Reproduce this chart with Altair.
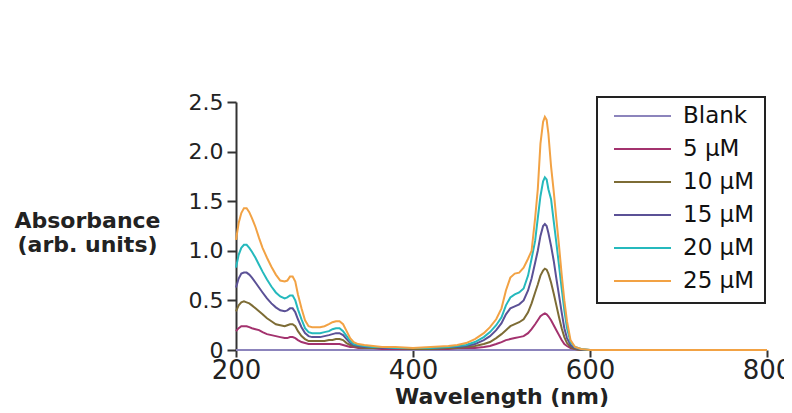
import altair as alt
import pandas as pd

# Wavelength grid (nm)
wavelength = [200, 203, 206, 209, 212, 215, 218, 222, 226, 230, 235, 240, 245, 250, 255, 258, 261, 264, 267, 270,
              274, 278, 282, 286, 290, 295, 300, 305, 309, 313, 317, 321, 325, 329, 333, 338, 345, 355, 365, 380,
              400, 420, 440, 450, 460, 470, 480, 487, 494,
              500, 505, 510, 515, 520, 525, 530, 534, 538, 541, 544, 547, 549, 551, 553, 556, 559, 562, 565, 568,
              571, 574, 578, 583, 590, 600, 700, 800]

series_names = ["Blank", "5 μM", "10 μM", "15 μM", "20 μM", "25 μM"]
series_colors = ["#8c84bc", "#a3326e", "#7d6c35", "#5b5196", "#25b9bd", "#f2a244"]

blank = [0.0] * len(wavelength)

c5 = [0.19, 0.22, 0.24, 0.24, 0.24, 0.23, 0.22, 0.21, 0.20, 0.18, 0.16, 0.15, 0.14, 0.13, 0.12, 0.12, 0.13, 0.13, 0.12, 0.10,
      0.08, 0.07, 0.06, 0.06, 0.06, 0.06, 0.06, 0.06, 0.06, 0.06, 0.06, 0.05, 0.04, 0.03, 0.03, 0.02, 0.02, 0.02, 0.01, 0.01,
      0.01, 0.01, 0.01, 0.02, 0.02, 0.02, 0.03, 0.04, 0.06,
      0.08, 0.10, 0.11, 0.12, 0.13, 0.14, 0.17, 0.21, 0.26, 0.30, 0.34, 0.36, 0.37, 0.36, 0.34, 0.30, 0.25, 0.20, 0.15, 0.10,
      0.06, 0.04, 0.02, 0.01, 0.0, 0.0, 0.0, 0.0]

c10 = [0.39, 0.45, 0.48, 0.49, 0.48, 0.47, 0.45, 0.42, 0.39, 0.36, 0.32, 0.29, 0.26, 0.25, 0.24, 0.25, 0.26, 0.26, 0.24, 0.19,
       0.14, 0.11, 0.09, 0.09, 0.09, 0.09, 0.09, 0.10, 0.10, 0.11, 0.11, 0.10, 0.07, 0.05, 0.04, 0.03, 0.02, 0.02, 0.02, 0.02,
       0.01, 0.01, 0.02, 0.02, 0.03, 0.04, 0.06, 0.08, 0.12,
       0.16, 0.20, 0.24, 0.26, 0.28, 0.31, 0.38, 0.47, 0.58, 0.66, 0.75, 0.80, 0.82, 0.81, 0.77, 0.68, 0.57, 0.45, 0.33, 0.22,
       0.13, 0.07, 0.03, 0.01, 0.0, 0.0, 0.0, 0.0]

c15 = [0.63, 0.72, 0.77, 0.78, 0.78, 0.76, 0.73, 0.68, 0.63, 0.58, 0.52, 0.47, 0.43, 0.40, 0.39, 0.40, 0.42, 0.42, 0.38, 0.31,
       0.23, 0.17, 0.14, 0.13, 0.13, 0.13, 0.14, 0.15, 0.16, 0.17, 0.17, 0.15, 0.11, 0.07, 0.05, 0.04, 0.03, 0.03, 0.02, 0.02,
       0.02, 0.02, 0.03, 0.03, 0.04, 0.06, 0.10, 0.14, 0.20,
       0.27, 0.36, 0.42, 0.44, 0.46, 0.50, 0.60, 0.72, 0.88, 1.00, 1.15, 1.25, 1.27, 1.25, 1.18, 1.05, 0.90, 0.72, 0.55, 0.38,
       0.22, 0.12, 0.05, 0.02, 0.005, 0.0, 0.0, 0.0]

c20 = [0.83, 0.96, 1.03, 1.06, 1.06, 1.03, 0.99, 0.93, 0.86, 0.79, 0.71, 0.64, 0.58, 0.54, 0.52, 0.53, 0.55, 0.55, 0.50, 0.41,
       0.31, 0.22, 0.18, 0.17, 0.17, 0.17, 0.18, 0.19, 0.21, 0.22, 0.22, 0.19, 0.14, 0.09, 0.06, 0.05, 0.04, 0.03, 0.03, 0.02,
       0.02, 0.02, 0.03, 0.04, 0.05, 0.08, 0.13, 0.18, 0.25,
       0.33, 0.45, 0.53, 0.56, 0.58, 0.62, 0.75, 0.92, 1.10, 1.33, 1.55, 1.70, 1.74, 1.72, 1.62, 1.52, 1.30, 1.08, 0.85, 0.62,
       0.40, 0.22, 0.08, 0.03, 0.01, 0.0, 0.0, 0.0]

c25 = [1.11, 1.28, 1.38, 1.43, 1.43, 1.39, 1.33, 1.24, 1.13, 1.03, 0.93, 0.84, 0.76, 0.70, 0.69, 0.70, 0.74, 0.74, 0.69, 0.56,
       0.42, 0.30, 0.24, 0.23, 0.23, 0.23, 0.24, 0.26, 0.28, 0.29, 0.29, 0.26, 0.19, 0.12, 0.08, 0.06, 0.05, 0.04, 0.03, 0.03,
       0.02, 0.03, 0.04, 0.05, 0.07, 0.11, 0.17, 0.23, 0.31,
       0.42, 0.60, 0.73, 0.77, 0.78, 0.83, 0.92, 1.00, 1.33, 1.62, 2.08, 2.30, 2.35, 2.32, 2.18, 1.85, 1.60, 1.32, 1.05, 0.76,
       0.50, 0.29, 0.10, 0.03, 0.01, 0.0, 0.0, 0.0]

y_ticks = [0, 0.5, 1.0, 1.5, 2.0, 2.5]
x_ticks = [200, 400, 600, 800]

rows = []
for name, vals in zip(series_names, [blank, c5, c10, c15, c20, c25]):
    for w, v in zip(wavelength, vals):
        rows.append({"wavelength": w, "absorbance": v, "series": name})
df = pd.DataFrame(rows)

FONT = "DejaVu Sans"

chart = alt.Chart(df).mark_line(strokeWidth=2, interpolate="linear").encode(
    x=alt.X("wavelength:Q",
            scale=alt.Scale(domain=[200, 800], nice=False),
            axis=alt.Axis(values=x_ticks, domain=False, grid=False, tickSize=7, tickWidth=2,
                          tickColor="#333", labelFontSize=26, labelFont=FONT, labelColor="#222",
                          labelPadding=0, labelFlush=False,
                          title="Wavelength (nm)", titleFont=FONT, titleFontSize=22,
                          titleFontWeight="bold", titleColor="#222", titleY=53,
                          titleBaseline="alphabetic")),
    y=alt.Y("absorbance:Q",
            scale=alt.Scale(domain=[0, 2.5], nice=False),
            axis=alt.Axis(values=y_ticks, grid=False, domainColor="#333", domainWidth=2,
                          tickColor="#333", tickWidth=2, tickSize=9,
                          labelExpr="datum.value == 0 ? '0' : format(datum.value, '.1f')",
                          labelFontSize=22, labelFont=FONT, labelColor="#222", labelPadding=4,
                          labelFlush=False,
                          title=["Absorbance", "(arb. units)"], titleAngle=0, titleX=-149,
                          titleY=125, titleAlign="center", titleBaseline="alphabetic",
                          titleFont=FONT, titleFontSize=22, titleFontWeight="bold",
                          titleLineHeight=24, titleColor="#222")),
    color=alt.Color("series:N",
                    scale=alt.Scale(domain=series_names, range=series_colors),
                    sort=series_names,
                    legend=alt.Legend(orient="none", legendX=361, legendY=-5, title=None,
                                      symbolType="stroke", symbolSize=3249, symbolStrokeWidth=2,
                                      clipHeight=18, rowPadding=10, labelFontSize=23,
                                      labelFont=FONT, labelColor="#111", labelOffset=11,
                                      labelExpr="datum.label + '\u00a0\u00a0\u00a0\u00a0'",
                                      symbolOffset=6, padding=10, strokeColor="#222")),
).properties(
    width=531,
    height=248,
    autosize=alt.AutoSizeParams(type="none"),
    padding={"left": 228, "top": 94, "right": 17, "bottom": 62},
).configure_view(stroke=None).configure_legend(strokeWidth=2)

chart.save("out.html", embed_options={"renderer": "svg", "actions": False})
